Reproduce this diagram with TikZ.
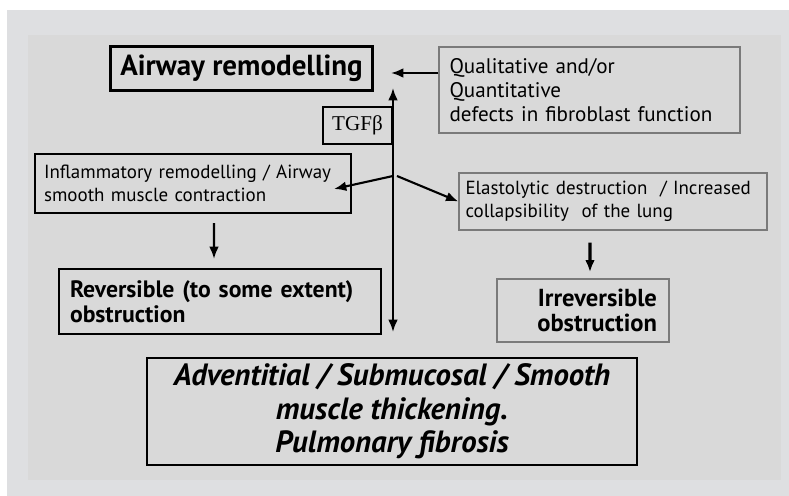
\documentclass[tikz,border=0pt]{standalone}
\usepackage{fontspec}
\setmainfont{PT Sans}
\newfontfamily\tgffont{Liberation Serif}
\usetikzlibrary{arrows.meta}

\definecolor{outerbg}{HTML}{DEDFE1}
\definecolor{innerbg}{HTML}{D9D9D9}
\definecolor{greyline}{HTML}{7A7A7A}

\tikzset{
	darkbox/.style={draw=black, line width=1.2pt, align=left, inner ysep=0pt},
	greybox/.style={draw=greyline, line width=0.8pt, align=left, inner ysep=0pt},
}

\begin{document}
\begin{tikzpicture}[x=0.02cm, y=-0.02cm, >={Latex[length=7pt,width=5.5pt]}, line width=1.2pt]

	\useasboundingbox (0,0) rectangle (789,496);
	\fill[white] (0,0) rectangle (789,496);
	\fill[outerbg] (7,10) rectangle (789,496);
	\fill[innerbg] (28,35) rectangle (781,480);

	\node[darkbox, minimum width=5.24cm, minimum height=0.88cm, align=center,
		font=\fontsize{16.5}{19}\selectfont\bfseries] (air) at (241.5,68.5) {Airway remodelling};
	\node[greybox, text width=5.6cm, inner xsep=0.21cm, minimum height=1.72cm,
		font=\fontsize{12}{13.5}\selectfont] (qual) at (589.5,90)
		{Qualitative and/or\\Quantitative\\defects in fibroblast function};
	\node[darkbox, minimum width=1.38cm, minimum height=0.74cm, align=center,
		font=\fontsize{12}{13}\tgffont] (tgf) at (357.5,125.5) {TGFβ};
	\node[darkbox, text width=5.96cm, inner xsep=0.18cm, minimum height=1.18cm,
		font=\fontsize{10.8}{13}\selectfont] (infl) at (193,183.5)
		{Inflammatory remodelling / Airway\\smooth muscle contraction};
	\node[greybox, text width=5.9cm, inner xsep=0.13cm, minimum height=1.14cm,
		font=\fontsize{10.8}{13}\selectfont] (elas) at (613,201.5)
		{Elastolytic destruction\ \ / Increased\\collapsibility\ \ of the lung};
	\node[darkbox, text width=6.0cm, inner xsep=0.22cm, minimum height=1.3cm,
		font=\fontsize{13.5}{14.5}\selectfont\bfseries] (rev) at (220,301.5)
		{Reversible (to some extent)\\obstruction};
	\node[greybox, text width=2.96cm, inner xsep=0.24cm, minimum height=1.26cm, align=right,
		font=\fontsize{14}{14.5}\selectfont\bfseries] (irr) at (583,310.5)
		{Irreversible\\obstruction};
	\node[darkbox, minimum width=9.8cm, minimum height=2.14cm, align=center,
		font=\fontsize{17.5}{19}\selectfont\bfseries\itshape] (adv) at (392,411.5)
		{Adventitial / Submucosal / Smooth\\muscle thickening.\\Pulmonary fibrosis};

	\coordinate (airin) at (391,73);
	\coordinate (vtop) at (393,88);
	\coordinate (vbot) at (393,332);
	\coordinate (junc) at (393,176);
	\coordinate (inflin) at (334,189);

	\path [->] (qual.west |- airin) edge (airin);
	\path [<->] (vtop) edge (vbot);
	\path [->] (junc) edge (inflin);
	\path [->] ([xshift=0.08cm]junc) edge (elas.west);
	\path [->] ([xshift=0.42cm,yshift=-0.18cm]infl.south) edge ([xshift=-0.12cm,yshift=0.18cm]rev.north);
	\path [->, line width=1.8pt] ([xshift=-0.46cm,yshift=-0.24cm]elas.south) edge ([xshift=0.14cm,yshift=0.12cm]irr.north);
\end{tikzpicture}
\end{document}
